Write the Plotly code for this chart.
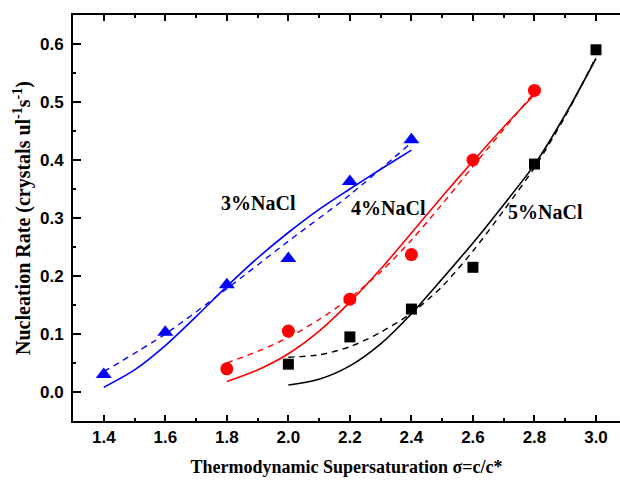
import plotly.graph_objects as go

# Measured nucleation rates (crystals ul^-1 s^-1) vs supersaturation
sigma_3 = [1.4, 1.6, 1.8, 2.0, 2.2, 2.4]
rate_3 = [0.030, 0.103, 0.185, 0.230, 0.363, 0.435]
sigma_4 = [1.8, 2.0, 2.2, 2.4, 2.6, 2.8]
rate_4 = [0.040, 0.105, 0.160, 0.237, 0.400, 0.520]
sigma_5 = [2.0, 2.2, 2.4, 2.6, 2.8, 3.0]
rate_5 = [0.048, 0.095, 0.143, 0.215, 0.393, 0.590]

# Model curves (solid) and empirical fits (dashed)
fit_x_3 = [1.4, 1.5, 1.6, 1.7, 1.8, 1.9, 2.0, 2.1, 2.2, 2.3, 2.4]
solid_3 = [0.008, 0.038, 0.080, 0.130, 0.182, 0.231, 0.275, 0.315, 0.350, 0.384, 0.417]
dash_x_3 = [1.4, 1.6, 1.8, 2.0, 2.2, 2.4]
dashed_3 = [0.035, 0.100, 0.178, 0.260, 0.340, 0.430]

fit_x_4 = [1.8, 1.9, 2.0, 2.1, 2.2, 2.3, 2.4, 2.5, 2.6, 2.7, 2.8]
solid_4 = [0.018, 0.038, 0.066, 0.105, 0.155, 0.212, 0.274, 0.337, 0.398, 0.457, 0.513]
dashed_4 = [0.050, 0.070, 0.094, 0.125, 0.162, 0.207, 0.262, 0.324, 0.389, 0.453, 0.517]

fit_x_5 = [2.0, 2.1, 2.2, 2.3, 2.4, 2.5, 2.6, 2.7, 2.8, 2.9, 3.0]
solid_5 = [0.012, 0.022, 0.045, 0.083, 0.135, 0.195, 0.257, 0.323, 0.392, 0.478, 0.575]
dashed_5 = [0.060, 0.064, 0.078, 0.103, 0.136, 0.182, 0.243, 0.313, 0.387, 0.475, 0.578]

x_ticks = [1.4, 1.6, 1.8, 2.0, 2.2, 2.4, 2.6, 2.8, 3.0]
y_ticks = [0.0, 0.1, 0.2, 0.3, 0.4, 0.5, 0.6]

labels = ["3%NaCl", "4%NaCl", "5%NaCl"]
label_x = [1.903, 2.325, 2.837]
label_y = [0.326, 0.317, 0.310]

fig = go.Figure()

series = [
    (fit_x_3, solid_3, dash_x_3, dashed_3, sigma_3, rate_3, "#0000ff", "triangle-up", 14),
    (fit_x_4, solid_4, fit_x_4, dashed_4, sigma_4, rate_4, "#ff0000", "circle", 13),
    (fit_x_5, solid_5, fit_x_5, dashed_5, sigma_5, rate_5, "#000000", "square", 11),
]
for fx, fs, dx, dd, sx, sy, col, sym, size in series:
    fig.add_trace(go.Scatter(x=fx, y=fs, mode="lines",
                             line=dict(color=col, width=1.6, shape="spline", smoothing=0.8),
                             showlegend=False, hoverinfo="skip"))
    fig.add_trace(go.Scatter(x=dx, y=dd, mode="lines",
                             line=dict(color=col, width=1.4, shape="spline", smoothing=0.8,
                                       dash="6px,5px"),
                             showlegend=False, hoverinfo="skip"))
    fig.add_trace(go.Scatter(x=sx, y=sy, mode="markers",
                             marker=dict(color=col, symbol=sym, size=size, line=dict(width=0)),
                             showlegend=False))

for txt, lx, ly in zip(labels, label_x, label_y):
    fig.add_annotation(x=lx, y=ly, text=txt, showarrow=False,
                       font=dict(family="Liberation Serif", size=20, color="black", weight="bold"))

tick_font = dict(family="Liberation Sans", size=17, color="black", weight="bold")
x_title_font = dict(family="Liberation Serif", size=18, color="black", weight="bold")
y_title_font = dict(family="Liberation Serif", size=20, color="black", weight="bold")

fig.update_xaxes(
    range=[1.3, 3.078], tickvals=x_ticks, ticktext=[f"{v:.1f}" for v in x_ticks],
    showline=True, linecolor="black", linewidth=2, mirror="allticks",
    ticks="inside", ticklen=6, tickwidth=2, tickcolor="black",
    minor=dict(dtick=0.1, tick0=1.3, ticks="inside", ticklen=3, tickwidth=2, tickcolor="black", showgrid=False),
    showgrid=False, zeroline=False, tickfont=tick_font,
    title=dict(text="Thermodynamic Supersaturation σ=c/c*", font=x_title_font, standoff=14),
)
fig.update_yaxes(
    range=[-0.05, 0.65], tickvals=y_ticks, ticktext=[f"{v:.1f}" for v in y_ticks],
    showline=True, linecolor="black", linewidth=2, mirror=False,
    ticks="inside", ticklen=8, tickwidth=2, tickcolor="black",
    minor=dict(dtick=0.05, tick0=0.05, ticks="inside", ticklen=3, tickwidth=2, tickcolor="black", showgrid=False),
    showgrid=False, zeroline=False, tickfont=tick_font, ticklabelstandoff=4,
    title=dict(text="Nucleation Rate (crystals ul<sup>-1</sup>s<sup>-1</sup>)", font=y_title_font, standoff=4),
)

fig.update_layout(
    width=620, height=482,
    margin=dict(l=73, r=0, t=15, b=61),
    paper_bgcolor="white", plot_bgcolor="white",
)

fig.write_html("out.html")
